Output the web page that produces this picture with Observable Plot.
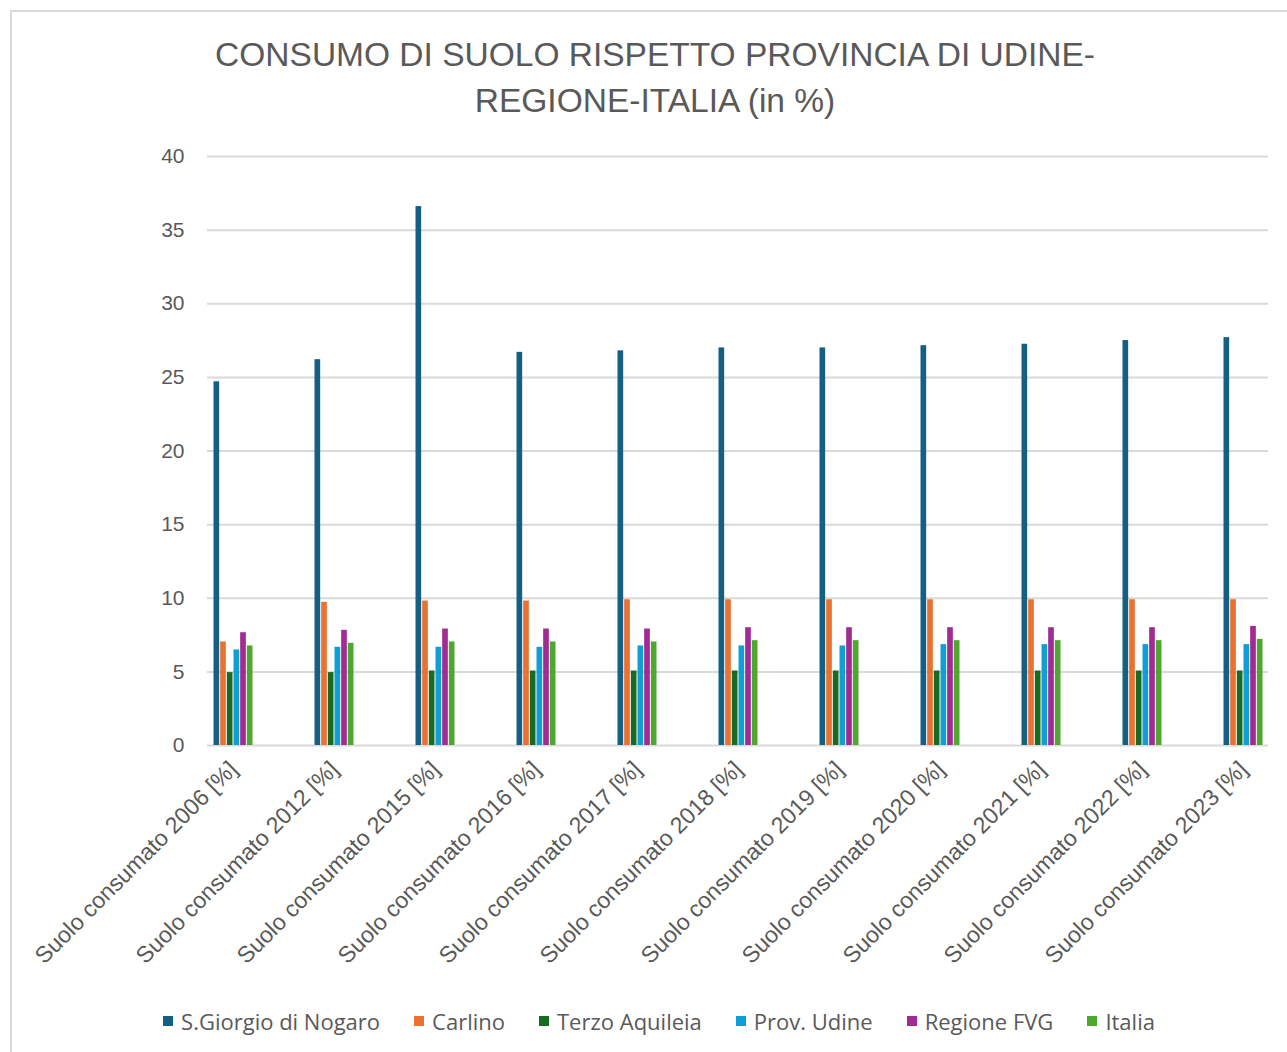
<!DOCTYPE html>
<html>
<head>
<meta charset="utf-8">
<script src="https://cdn.jsdelivr.net/npm/d3@7"></script>
<script src="https://cdn.jsdelivr.net/npm/@observablehq/plot@0.6"></script>
<style>
  html, body { margin: 0; padding: 0; background: #fff; overflow: hidden; }
  #frame { position: absolute; left: 10px; top: 10px; width: 1300px; height: 1070px; border: 2px solid #d9d9d9; box-sizing: border-box; }
  #title { position: absolute; left: 0; top: 32px; width: 1310px; text-align: center; font-family: "Liberation Sans", Arial, sans-serif; font-size: 33.5px; line-height: 46px; color: #595959; }
  #chart { position: absolute; left: 0; top: 130px; }
  #legend { position: absolute; left: 0; top: 1006px; width: 1318px; display: flex; justify-content: center; gap: 34px; font-family: "Open Sans", sans-serif; font-size: 22px; color: #595959; }
  .item { display: flex; align-items: center; gap: 8px; }
  .sw { width: 10px; height: 10px; display: inline-block; }
</style>
</head>
<body>
<div id="frame"></div>
<div id="title">CONSUMO DI SUOLO RISPETTO PROVINCIA DI UDINE-<br>REGIONE-ITALIA (in %)</div>
<div id="chart"></div>
<div id="legend"></div>
<script>
const categories = [
  "Suolo consumato 2006 [%]", "Suolo consumato 2012 [%]", "Suolo consumato 2015 [%]",
  "Suolo consumato 2016 [%]", "Suolo consumato 2017 [%]", "Suolo consumato 2018 [%]",
  "Suolo consumato 2019 [%]", "Suolo consumato 2020 [%]", "Suolo consumato 2021 [%]",
  "Suolo consumato 2022 [%]", "Suolo consumato 2023 [%]"
];
const seriesNames = ["S.Giorgio di Nogaro", "Carlino", "Terzo Aquileia", "Prov. Udine", "Regione FVG", "Italia"];
const seriesColors = ["#156082", "#E97132", "#196B24", "#0F9ED5", "#A02B93", "#4EA72E"];

const sGiorgio  = [24.7, 26.2, 36.6, 26.7, 26.8, 27.0, 27.0, 27.15, 27.25, 27.5, 27.7];
const carlino   = [7.03, 9.72, 9.81, 9.81, 9.9, 9.9, 9.9, 9.9, 9.9, 9.9, 9.9];
const terzo     = [4.95, 4.95, 5.06, 5.06, 5.06, 5.06, 5.06, 5.06, 5.06, 5.06, 5.06];
const provUdine = [6.49, 6.67, 6.67, 6.67, 6.76, 6.76, 6.76, 6.85, 6.85, 6.85, 6.85];
const regione   = [7.66, 7.82, 7.91, 7.91, 7.91, 8.0, 8.0, 8.0, 8.0, 8.0, 8.09];
const italia    = [6.76, 6.94, 7.03, 7.03, 7.03, 7.12, 7.12, 7.12, 7.12, 7.12, 7.21];
const yTicks = [0, 5, 10, 15, 20, 25, 30, 35, 40];

const seriesValues = [sGiorgio, carlino, terzo, provUdine, regione, italia];
const rows = seriesNames.flatMap((s, k) => categories.map((c, i) => ({cat: c, series: s, value: seriesValues[k][i]})));

const groupW = 40;
const slot = groupW / seriesNames.length;

const bars = seriesNames.map((s, k) => Plot.barY(rows.filter(r => r.series === s), {
  x: "cat", y: "value", fill: "series",
  insetLeft: k * slot + 0.5, insetRight: (seriesNames.length - 1 - k) * slot + 0.5
}));

const chart = Plot.plot({
  width: 1287,
  height: 860,
  marginTop: 26,
  marginBottom: 245,
  marginLeft: 207,
  marginRight: 19,
  style: {fontFamily: "'Liberation Sans', Arial, sans-serif", fontSize: "21px", color: "#595959", background: "transparent"},
  x: {domain: categories, paddingInner: 0.604, paddingOuter: 0.052, label: null},
  y: {domain: [0, 40], label: null},
  color: {domain: seriesNames, range: seriesColors},
  marks: [
    Plot.ruleY(yTicks, {stroke: "#d9d9d9", strokeWidth: 2}),
    ...bars,
    Plot.axisY(yTicks, {tickSize: 0, tickPadding: 23, fontSize: 21, fill: "#595959"}),
    Plot.axisX({tickSize: 0, tickPadding: 20, tickRotate: -45, fontSize: 23, fill: "#595959"})
  ]
});
document.getElementById("chart").appendChild(chart);

const legend = document.getElementById("legend");
seriesNames.forEach((s, k) => {
  const it = document.createElement("div");
  it.className = "item";
  const sw = document.createElement("span");
  sw.className = "sw";
  sw.style.background = seriesColors[k];
  const t = document.createElement("span");
  t.textContent = s;
  it.appendChild(sw); it.appendChild(t);
  legend.appendChild(it);
});
</script>
</body>
</html>
